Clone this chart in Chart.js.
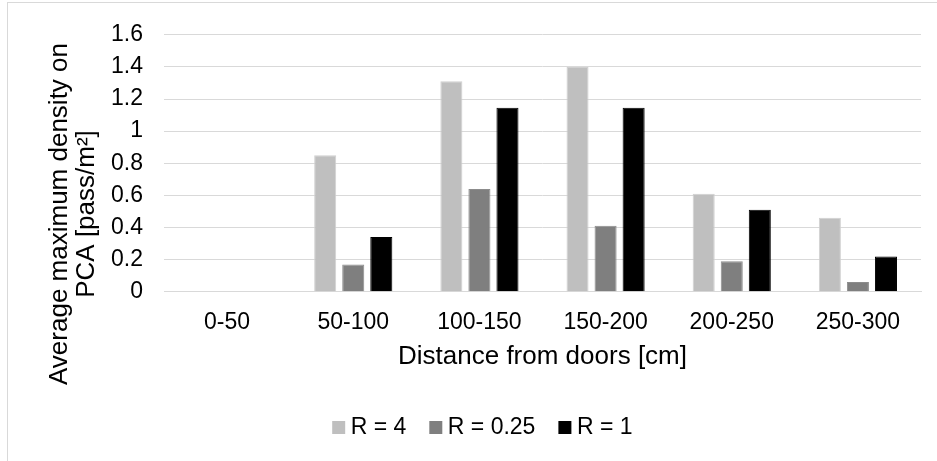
<!DOCTYPE html>
<html>
<head>
<meta charset="utf-8">
<script src="https://cdn.jsdelivr.net/npm/chart.js@4/dist/chart.umd.min.js"></script>
<style>
  html, body { margin: 0; padding: 0; background: #fff; }
  #wrap { position: relative; width: 937px; height: 461px; overflow: hidden; }
  #frame { position: absolute; left: 7px; top: 2px; width: 960px; height: 480px; border: 1px solid #d9d9d9; box-sizing: border-box; pointer-events: none; }
  #c { position: absolute; left: 0; top: 0; }
</style>
</head>
<body>
<div id="wrap">
  <div id="frame"></div>
  <canvas id="c" width="937" height="461"></canvas>
</div>
<script>
const categories = ['0-50', '50-100', '100-150', '150-200', '200-250', '250-300'];
const seriesNames = ['R = 4', 'R = 0.25', 'R = 1'];
const valuesR4 = [0, 0.85, 1.31, 1.40, 0.61, 0.46];
const valuesR025 = [0, 0.17, 0.64, 0.41, 0.19, 0.06];
const valuesR1 = [0, 0.34, 1.145, 1.145, 0.51, 0.22];
const seriesColors = ['#bfbfbf', '#7f7f7f', '#000000'];
const seriesEdges = ['#d0d0d0', '#8c8c8c', '#000000'];
const yTitleLines = ['Average maximum density on', 'PCA [pass/m²]'];
const xTitle = 'Distance from doors [cm]';
const FONT = '"Liberation Sans", Arial, sans-serif';

const yTitlePlugin = {
  id: 'yTitle',
  afterDraw(chart) {
    const ctx = chart.ctx;
    ctx.save();
    ctx.fillStyle = '#000';
    ctx.font = '26px ' + FONT;
    ctx.textAlign = 'center';
    ctx.textBaseline = 'alphabetic';
    const cy = 214;
    const baselines = [67, 94];
    yTitleLines.forEach((t, i) => {
      ctx.save();
      ctx.translate(baselines[i], cy);
      ctx.rotate(-Math.PI / 2);
      ctx.fillText(t, 0, 0);
      ctx.restore();
    });
    ctx.restore();
  }
};

const seriesValues = [valuesR4, valuesR025, valuesR1];
new Chart(document.getElementById('c'), {
  type: 'bar',
  data: {
    labels: categories,
    datasets: seriesNames.map((n, i) => ({
      label: n,
      data: seriesValues[i],
      backgroundColor: seriesColors[i],
      borderColor: seriesEdges[i],
      borderWidth: 1,
      categoryPercentage: 0.667,
      barPercentage: 0.786
    }))
  },
  options: {
    responsive: false,
    animation: false,
    layout: { padding: { left: 49.7, right: 16, top: 31.7, bottom: 12 } },
    plugins: {
      tooltip: { enabled: false },
      legend: {
        position: 'bottom',
        labels: {
          usePointStyle: true,
          pointStyle: 'rect',
          boxWidth: 1, boxHeight: 13, padding: 29,
          color: '#000',
          font: { size: 23, family: FONT },
          generateLabels(chart) {
            return chart.data.datasets.map((ds, i) => ({
              text: ds.label,
              fillStyle: seriesColors[i],
              strokeStyle: seriesColors[i],
              lineWidth: 0,
              pointStyle: 'rect',
              hidden: false,
              datasetIndex: i
            }));
          }
        }
      }
    },
    scales: {
      x: {
        grid: { display: false, drawTicks: false },
        border: { display: true, color: '#d9d9d9', width: 1 },
        ticks: { color: '#000', font: { size: 23, family: FONT }, padding: 17, maxRotation: 0 },
        title: { display: true, text: xTitle, color: '#000', font: { size: 26, family: FONT }, padding: { top: 0, bottom: 14.4 } },
        afterFit(scale) { scale.height = 95.3; }
      },
      y: {
        min: 0, max: 1.6,
        grid: { color: '#d9d9d9', lineWidth: 1, drawTicks: false },
        border: { display: false },
        ticks: {
          stepSize: 0.2, color: '#000', font: { size: 23, family: FONT }, padding: 21,
          callback: v => String(Math.round(v * 10) / 10)
        },
        afterFit(scale) { scale.width = 114.3; }
      }
    }
  },
  plugins: [yTitlePlugin]
});
</script>
</body>
</html>
